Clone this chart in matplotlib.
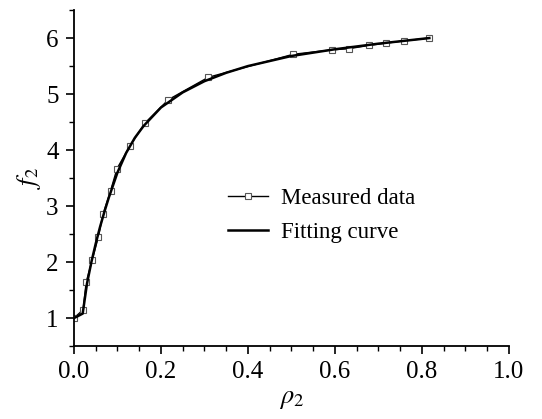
import numpy as np
import matplotlib.pyplot as plt
from matplotlib.ticker import MultipleLocator

plt.rcParams['font.family'] = ['Liberation Serif', 'DejaVu Serif']
plt.rcParams['mathtext.fontset'] = 'stix'

rho_meas = [0.0, 0.021, 0.028, 0.042, 0.056, 0.067, 0.084, 0.099, 0.129, 0.163,
            0.217, 0.309, 0.504, 0.594, 0.632, 0.679, 0.718, 0.759, 0.817]
f_meas = [1.0, 1.15, 1.64, 2.04, 2.45, 2.86, 3.27, 3.67, 4.08, 4.48,
          4.90, 5.30, 5.71, 5.79, 5.81, 5.87, 5.91, 5.95, 6.0]

# fitting curve
rho_fit = [0.0, 0.02, 0.025, 0.03, 0.04, 0.05, 0.06, 0.07, 0.08, 0.10, 0.12,
           0.14, 0.16, 0.20, 0.25, 0.30, 0.35, 0.40, 0.50, 0.60, 0.70, 0.817]
f_fit = [1.0, 1.08, 1.35, 1.62, 2.0, 2.33, 2.63, 2.9, 3.15, 3.6, 3.95,
         4.22, 4.43, 4.76, 5.03, 5.23, 5.38, 5.50, 5.68, 5.80, 5.90, 6.0]

fig = plt.figure(figsize=(5.42, 4.19), dpi=100)
ax = fig.add_axes([0.1365, 0.174, 0.8025, 0.802])

ax.plot(rho_meas, f_meas, '-', color='black', lw=1.0, marker='s', ms=5,
        mfc='white', mec='#555555', mew=0.8, label='Measured data')
ax.plot(rho_fit, f_fit, '-', color='black', lw=1.8, label='Fitting curve')

ax.set_xlim(0, 1.0)
ax.set_ylim(0.5, 6.5)
ax.xaxis.set_major_locator(MultipleLocator(0.2))
ax.xaxis.set_minor_locator(MultipleLocator(0.05))
ax.yaxis.set_major_locator(MultipleLocator(1))
ax.yaxis.set_minor_locator(MultipleLocator(0.5))
ax.set_yticks([1, 2, 3, 4, 5, 6])
ax.xaxis.set_major_formatter(plt.FuncFormatter(lambda v, p: f'{v:.1f}'))

for s in ['top', 'right']:
    ax.spines[s].set_visible(False)
for s in ['left', 'bottom']:
    ax.spines[s].set_linewidth(1.3)
ax.tick_params(which='major', direction='out', length=6, width=1.2, labelsize=18, pad=5)
ax.tick_params(which='minor', direction='out', length=3.5, width=1.0)

ax.set_xlabel(r'$\rho_2$', fontsize=19, labelpad=4)
ax.set_ylabel(r'$f_2$', fontsize=19, labelpad=2)

leg = ax.legend(loc='upper left', bbox_to_anchor=(0.355, 0.47), frameon=False,
                fontsize=16.5, handlelength=1.75, handletextpad=0.55, labelspacing=0.55,
                borderaxespad=0, borderpad=0)

fig.savefig('out.png', dpi=100)
